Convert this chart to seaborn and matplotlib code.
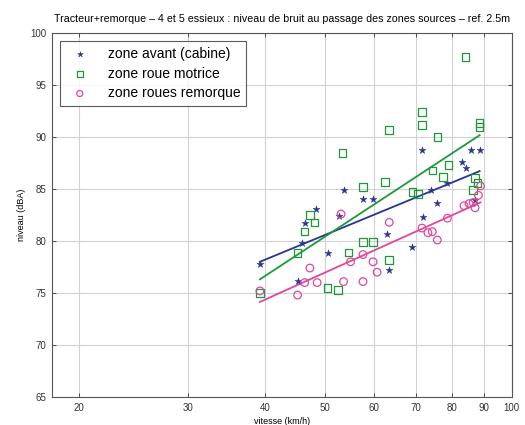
import matplotlib
matplotlib.use("Agg")
import matplotlib.pyplot as plt
import matplotlib.ticker as mticker
import numpy as np
import pandas as pd
import seaborn as sns

# vitesse (km/h) / niveau (dBA) per zone
avant_v = [39.2, 45.8, 46.3, 48.3, 52.6, 50.4, 45.1, 53.5, 57.5, 59.7, 62.8,
           69.1, 63.4, 71.9, 75.8, 71.6, 83.1, 86.0, 88.7, 78.7, 87.2, 84.2, 74.0]
avant_L = [77.8, 79.8, 81.7, 83.1, 82.4, 78.85, 76.15, 84.9, 84.0, 84.0, 80.7,
           79.4, 77.2, 82.3, 83.65, 88.75, 87.6, 88.75, 88.75, 85.6, 83.9, 87.0, 84.9]

motrice_v = [39.2, 47.2, 48.0, 46.3, 45.1, 54.5, 50.4, 52.4, 57.5, 59.7, 57.5,
             62.4, 53.3, 69.1, 74.4, 77.5, 79.0, 71.6, 71.6, 63.4, 75.8, 84.2,
             88.7, 88.7, 87.2, 88.0, 86.6, 63.4, 70.5]
motrice_L = [75.0, 82.5, 81.8, 80.9, 78.85, 78.9, 75.5, 75.3, 79.9, 79.9, 85.2,
             85.7, 88.46, 84.7, 86.8, 86.15, 87.3, 92.4, 91.15, 90.7, 90.0, 97.7,
             91.35, 90.95, 86.05, 85.6, 84.9, 78.2, 84.5]

remorque_v = [39.2, 45.1, 46.3, 47.2, 48.5, 53.5, 57.5, 59.7, 57.5, 63.4, 53.0,
              71.6, 73.2, 74.4, 75.8, 78.7, 83.7, 85.3, 86.6, 87.2, 54.9, 60.6,
              89.0, 88.3]
remorque_L = [75.2, 74.8, 76.0, 77.4, 76.0, 76.1, 76.1, 78.0, 78.7, 81.8, 82.6,
              81.25, 80.8, 80.9, 80.1, 82.2, 83.4, 83.6, 83.7, 83.2, 78.0, 77.0,
              85.3, 84.4]

labels = ["zone avant (cabine)", "zone roue motrice", "zone roues remorque"]
colors = ["#2a3592", "#1c9a3a", "#e0489a"]
markers = ["*", "s", "o"]

series = [(avant_v, avant_L), (motrice_v, motrice_L), (remorque_v, remorque_L)]

plt.rcParams["font.family"] = ["Liberation Sans", "DejaVu Sans"]

fig = plt.figure(figsize=(5.25, 4.25), dpi=100)
ax = fig.add_axes([0.099, 0.066, 0.876, 0.856])

for (v, L), lab, c, m in zip(series, labels, colors, markers):
    df = pd.DataFrame({"v": v, "L": L})
    if m == "*":
        sns.scatterplot(data=df, x="v", y="L", ax=ax, marker=m, s=28,
                        color=c, edgecolor=c, linewidth=0.3, label=lab, zorder=3)
    else:
        sns.scatterplot(data=df, x="v", y="L", ax=ax, marker=m, s=30,
                        facecolors="none", edgecolor=c, linewidth=0.9,
                        label=lab, zorder=3)
    # straight line on log axis: L = a + b*log(v)
    sns.regplot(data=df, x="v", y="L", ax=ax, logx=True, scatter=False,
                ci=None, color=c, line_kws={"lw": 1.3, "zorder": 2})

ax.set_xscale("log")
ax.set_xlim(18.1, 100)
ax.set_ylim(65, 100)
xt = [20, 30, 40, 50, 60, 70, 80, 90, 100]
ax.xaxis.set_major_locator(mticker.FixedLocator(xt))
ax.xaxis.set_major_formatter(mticker.FixedFormatter([str(t) for t in xt]))
ax.xaxis.set_minor_locator(mticker.NullLocator())
ax.set_yticks(np.arange(65, 101, 5))

ax.grid(True, color="#d2d2d2", lw=0.8)
ax.set_axisbelow(True)
ax.tick_params(direction="in", top=True, right=True, labelsize=7,
               length=3, width=0.6, colors="#333333", pad=4)
for s in ax.spines.values():
    s.set_color("#555555")
    s.set_linewidth(0.8)

ax.set_xlabel("vitesse (km/h)", fontsize=6.5, labelpad=3)
ax.set_ylabel("niveau (dBA)", fontsize=6.5, labelpad=3)
ax.set_title("Tracteur+remorque \u2013 4 et 5 essieux : niveau de bruit au passage "
             "des zones sources \u2013 ref. 2.5m", fontsize=7.7, pad=8)

leg = ax.legend(loc="upper left", fontsize=10, frameon=True, fancybox=False,
                edgecolor="#333333", borderaxespad=0.6, handletextpad=1.0,
                labelspacing=0.4, borderpad=0.4, markerscale=0.8)
leg.get_frame().set_linewidth(0.8)

fig.savefig("out.png", dpi=100)
